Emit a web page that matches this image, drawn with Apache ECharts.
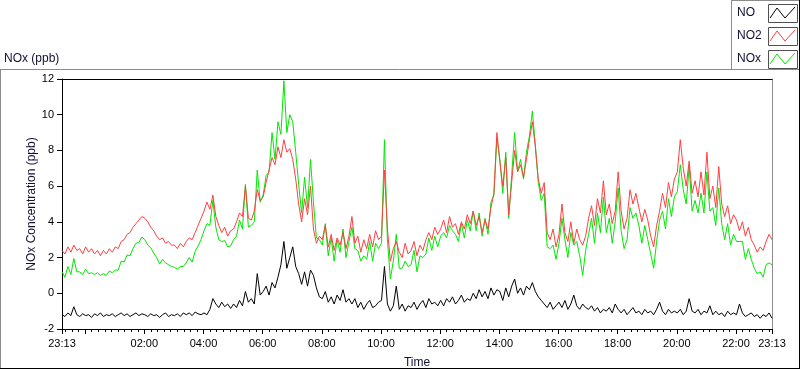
<!DOCTYPE html>
<html><head><meta charset="utf-8">
<script src="https://cdn.jsdelivr.net/npm/echarts@6/dist/echarts.min.js"></script>
<style>html,body{margin:0;padding:0;background:#fff;}#c{width:800px;height:369px;}</style>
</head><body><div id="c"></div>
<script>
// time of first sample: 23:13 of the previous day, in minutes from midnight
const startMinute = -47;
const stepMinutes = 6;
const seriesNames = ['NO', 'NO2', 'NOx'];

const no = [
 -1.2,-1.3,-1.1,-1.25,-0.75,-1.2,-1.3,-1.15,-1.25,
 -1.2,-1.35,-1.15,-1.25,-1.1,-1.3,-1.2,-1.25,-1.15,
 -1.3,-1.2,-1.1,-1.25,-1.15,-1.3,-1.2,-1.1,-1.25,-1.15,
 -1.2,-1.3,-1.15,-1.25,-1.2,-1.35,-1.2,-1.1,-1.3,-1.2,
 -1.25,-1.15,-1.3,-1.1,-1.2,-1.1,-1.25,-1.05,-1.15,-1.2,
 -1.1,-1.2,-0.9,-0.3,-0.6,-0.8,-0.5,-0.75,-0.6,-0.85,
 -0.6,-0.8,-0.4,-0.7,0.1,-0.5,-0.3,-0.6,1.1,-0.1,
 0.1,0.4,-0.1,0.6,0.3,0.9,1.6,2.9,1.4,2.0,
 2.6,1.5,1.1,0.5,1.2,0.4,1.3,1.0,0.3,-0.2,
 -0.3,0.1,-0.5,-0.2,-0.6,-0.1,-0.4,0.2,-0.5,-0.3,
 -0.6,-0.3,-0.8,-0.5,-0.9,-0.6,-0.4,-0.8,-0.7,-0.5,
 -0.4,1.5,-0.6,-1.0,-0.7,0.4,-0.9,-0.6,-1.0,-0.7,
 -0.8,-0.5,-0.9,-0.6,-0.4,-0.8,-0.3,-0.6,-0.5,-0.7,
 -0.4,-0.7,-0.3,-0.5,-0.2,-0.6,-0.4,-0.1,-0.5,-0.3,
 -0.4,0.0,-0.3,0.2,-0.2,0.1,-0.3,0.3,-0.1,0.2,
 0.1,-0.4,0.3,-0.2,0.4,0.8,0.0,0.3,-0.1,0.4,
 0.2,0.6,0.1,-0.2,-0.4,-0.6,-0.8,-0.5,-0.9,-0.7,
 -0.5,-0.8,-0.4,-0.9,-0.6,-0.1,-0.7,-0.9,-0.6,-0.8,
 -0.9,-0.7,-1.0,-0.8,-1.1,-0.9,-1.0,-0.8,-1.1,-0.6,
 -0.9,-1.1,-0.9,-1.2,-1.0,-0.8,-1.1,-1.0,-1.2,-0.9,
 -1.1,-1.0,-1.2,-0.9,-0.5,-1.0,-1.2,-0.9,-1.1,-1.0,
 -1.1,-0.9,-1.2,-1.0,-0.3,-1.0,-1.1,-0.9,-1.2,-1.0,
 -1.1,-0.7,-1.2,-1.0,-1.2,-1.1,-1.3,-1.0,-1.2,-1.1,
 -1.2,-0.6,-1.1,-1.3,-1.2,-1.1,-1.3,-1.2,-1.4,-1.2,-1.3,-1.1,-1.4
];

const no2 = [
 2.4,2.2,2.6,2.3,2.7,2.4,2.5,2.2,2.6,
 2.3,2.5,2.2,2.4,2.1,2.4,2.2,2.5,2.3,
 2.6,2.5,2.9,3.0,3.3,3.4,3.7,3.9,4.1,4.3,
 4.2,4.0,3.7,3.5,3.2,3.0,3.1,2.8,2.9,2.7,
 2.7,2.5,2.8,2.6,2.9,3.1,3.0,3.4,3.8,4.2,
 4.6,5.1,4.7,5.5,4.3,3.8,3.4,3.7,3.2,3.5,
 3.6,4.0,4.5,4.3,6.0,4.2,4.1,4.6,5.8,5.2,
 5.4,6.2,6.9,7.6,7.2,8.2,7.6,8.6,7.9,8.1,
 7.5,6.4,5.0,4.0,5.3,4.4,6.0,3.6,2.8,3.2,
 3.0,3.8,2.6,3.3,2.4,3.1,2.7,3.4,2.5,3.2,
 4.3,2.8,3.2,2.3,3.0,2.5,3.3,2.6,3.5,3.0,
 3.2,6.9,3.6,1.8,2.5,2.9,2.3,2.0,2.8,2.2,
 2.4,2.9,2.1,2.7,2.4,3.0,3.4,3.0,3.7,3.3,
 3.6,4.1,3.4,4.3,3.7,3.9,3.3,4.0,3.6,4.4,
 3.9,4.6,3.8,4.3,3.4,4.1,3.6,4.8,5.6,9.0,
 7.4,6.0,7.6,4.4,6.2,8.0,6.8,7.2,6.5,7.5,
 8.6,9.6,8.2,6.4,5.6,6.2,3.4,3.0,3.6,2.6,
 3.3,5.0,3.4,2.9,4.0,2.8,3.6,3.0,2.7,3.2,
 4.2,4.9,3.8,5.3,4.5,6.3,4.4,5.0,3.9,4.6,
 6.8,4.6,3.6,4.2,5.8,5.0,5.6,4.8,4.0,4.7,
 4.1,3.2,2.6,3.8,4.6,5.6,4.8,6.2,5.4,6.4,
 6.8,8.6,7.0,6.0,7.4,5.6,6.3,5.4,6.8,5.5,
 7.9,5.3,6.0,4.8,7.1,5.0,4.3,4.9,3.9,4.4,
 4.1,3.5,4.0,3.2,3.7,3.0,2.7,2.3,2.6,2.4,2.9,3.3,3.0
];

const nox = [
 1.2,0.9,1.5,1.05,1.95,1.2,1.2,1.05,1.35,
 1.1,1.15,1.05,1.15,1.0,1.1,1.0,1.25,1.15,
 1.3,1.3,1.8,1.75,2.15,2.1,2.5,2.8,2.85,3.15,
 3.0,2.7,2.55,2.25,2.0,1.65,1.9,1.7,1.6,1.5,
 1.45,1.35,1.5,1.5,1.7,2.0,1.75,2.35,2.65,3.0,
 3.5,3.9,3.8,5.2,3.7,3.0,2.9,2.95,2.6,2.65,
 3.0,3.2,4.1,3.6,6.1,3.7,3.8,4.0,6.9,5.1,
 5.5,6.6,6.8,9.0,7.5,9.6,8.9,11.9,9.0,10.0,
 9.6,7.9,6.1,4.5,6.5,4.8,7.5,5.1,3.1,3.0,
 2.7,3.9,2.1,3.1,1.8,3.0,2.3,3.6,2.0,2.9,
 3.7,2.5,2.4,1.8,2.1,1.9,2.9,1.8,2.8,2.5,
 2.8,8.6,3.0,0.8,1.8,3.3,1.4,1.4,1.8,1.5,
 1.6,2.4,1.2,2.1,2.0,2.2,3.1,2.4,3.2,2.6,
 3.2,3.4,3.1,3.8,3.5,3.3,2.9,3.9,3.1,4.1,
 3.5,4.6,3.5,4.5,3.2,4.2,3.3,5.1,5.5,8.7,
 7.5,5.6,7.9,4.2,6.6,9.0,6.8,7.5,6.4,7.9,
 8.8,10.2,8.3,6.2,5.2,5.6,2.6,2.5,2.7,1.9,
 2.8,4.2,3.0,2.0,3.4,2.7,2.9,2.1,1.0,2.4,
 3.3,4.2,2.8,4.5,3.4,5.4,3.4,4.2,2.8,4.0,
 5.9,3.5,2.5,3.0,4.8,4.2,4.5,3.8,2.8,3.8,
 3.0,2.2,1.4,2.9,4.1,4.6,3.6,5.3,4.3,5.4,
 5.7,7.2,5.8,5.0,7.1,4.6,5.2,4.5,5.6,4.5,
 6.8,4.6,4.8,3.8,5.9,3.9,3.0,3.9,2.7,3.3,
 2.9,2.9,2.9,1.9,2.5,1.9,1.4,1.1,1.2,0.9,1.6,1.7,1.6
];

// axis ticks (minutes from midnight)
const xMin = -47, xMax = 1393;
const xLabelMinutes = [-47,120,240,360,480,600,720,840,960,1080,1200,1320,1393];
const majorTickMinutes = [-47,0,120,240,360,480,600,720,840,960,1080,1200,1320,1393];
const yMin = -2, yMax = 12, yStep = 2;

const minorTickMinutes = [];
for (let n = -3; n * 40 / 3 <= xMax; n++) {
  const v = n * 40 / 3;
  if (v >= xMin) minorTickMinutes.push(v);
}

function toPairs(arr) { return arr.map((v, i) => [startMinute + i * stepMinutes, v]); }
function fmt(v) {
  const m = ((Math.round(v) % 1440) + 1440) % 1440;
  const h = Math.floor(m / 60), mm = m % 60;
  return (h < 10 ? '0' : '') + h + ':' + (mm < 10 ? '0' : '') + mm;
}

const FONT = 'Liberation Sans, Arial, sans-serif';
const TXT = '#101030';
const chart = echarts.init(document.getElementById('c'), null, {renderer: 'canvas'});

const legendItems = [
  {name: seriesNames[0], color: '#000000', y: 4},
  {name: seriesNames[1], color: '#ff4040', y: 27},
  {name: seriesNames[2], color: '#00e800', y: 50}
];
const graphics = [
  {type: 'line', shape: {x1: 0, y1: 69.5, x2: 799, y2: 69.5}, style: {stroke: '#8c8c8c', lineWidth: 1}},
  {type: 'line', shape: {x1: 0.5, y1: 69, x2: 0.5, y2: 368}, style: {stroke: '#8c8c8c', lineWidth: 1}},
  {type: 'line', shape: {x1: 0, y1: 368.5, x2: 800, y2: 368.5}, style: {stroke: '#000', lineWidth: 1}},
  {type: 'line', shape: {x1: 799.5, y1: 0, x2: 799.5, y2: 369}, style: {stroke: '#000', lineWidth: 1}},
  {type: 'line', shape: {x1: 731.5, y1: 0, x2: 731.5, y2: 69}, style: {stroke: '#8c8c8c', lineWidth: 1}},
  {type: 'line', shape: {x1: 731, y1: 0.5, x2: 799, y2: 0.5}, style: {stroke: '#8c8c8c', lineWidth: 1}}
];
legendItems.forEach(it => {
  graphics.push({type: 'text', left: 737, top: it.y + 3, style: {text: it.name, fill: TXT, font: '12px ' + FONT}});
  graphics.push({type: 'rect', shape: {x: 768.5, y: it.y + 0.5, width: 29, height: 18}, style: {fill: '#fff', stroke: '#505050', lineWidth: 1}});
  graphics.push({type: 'polyline', shape: {points: [[770, it.y + 14], [777, it.y + 4], [785, it.y + 14], [795, it.y + 3]]}, style: {stroke: it.color, lineWidth: 1, fill: null}});
});

chart.setOption({
  animation: false,
  backgroundColor: '#fff',
  title: {text: 'NOx (ppb)', left: 4, top: 53, padding: 0,
    textStyle: {fontSize: 12, fontWeight: 'normal', color: TXT, fontFamily: FONT}},
  grid: {left: 62, right: 28, top: 79, bottom: 40, show: false, containLabel: false, outerBoundsMode: 'none'},
  xAxis: [
    {type: 'value', min: xMin, max: xMax, position: 'bottom',
     axisLine: {show: true, onZero: false, lineStyle: {color: '#000', width: 1}},
     axisTick: {show: true, length: 5, customValues: majorTickMinutes, lineStyle: {color: '#000'}},
     axisLabel: {show: true, customValues: xLabelMinutes, formatter: fmt, margin: 9,
       fontSize: 11, color: '#000', fontFamily: FONT},
     splitLine: {show: false},
     name: 'Time', nameLocation: 'middle', nameGap: 28, nameMoveOverlap: false,
     nameTextStyle: {fontSize: 12, color: TXT, fontFamily: FONT}},
    {type: 'value', min: xMin, max: xMax, position: 'bottom',
     axisLine: {show: false, onZero: false},
     axisTick: {show: true, length: 3, customValues: minorTickMinutes, lineStyle: {color: '#000'}},
     axisLabel: {show: false}, splitLine: {show: false}},
    {type: 'value', min: xMin, max: xMax, position: 'top',
     axisLine: {show: true, onZero: false, lineStyle: {color: '#000', width: 1}},
     axisTick: {show: false}, axisLabel: {show: false}, splitLine: {show: false}}
  ],
  yAxis: [
    {type: 'value', min: yMin, max: yMax, interval: yStep, position: 'left',
     axisLine: {show: true, onZero: false, lineStyle: {color: '#000', width: 1}},
     axisTick: {show: true, length: 5, lineStyle: {color: '#000'}},
     axisLabel: {margin: 8, fontSize: 11, color: '#000', fontFamily: FONT},
     splitLine: {show: false},
     name: 'NOx Concentration (ppb)', nameLocation: 'middle', nameGap: 24, nameMoveOverlap: false,
     nameTextStyle: {fontSize: 12, color: TXT, fontFamily: FONT}},
    {type: 'value', min: yMin, max: yMax, interval: yStep, position: 'right',
     axisLine: {show: true, onZero: false, lineStyle: {color: '#8c8c8c', width: 1}},
     axisTick: {show: false}, axisLabel: {show: false}, splitLine: {show: false}}
  ],
  series: [
    {name: seriesNames[0], type: 'line', data: toPairs(no), showSymbol: false, symbol: 'none',
     lineStyle: {color: '#000000', width: 1}, z: 2},
    {name: seriesNames[2], type: 'line', data: toPairs(nox), showSymbol: false, symbol: 'none',
     lineStyle: {color: '#00e800', width: 1}, z: 3},
    {name: seriesNames[1], type: 'line', data: toPairs(no2), showSymbol: false, symbol: 'none',
     lineStyle: {color: '#ff4040', width: 1}, z: 4}
  ],
  graphic: graphics
});
</script>
</body></html>
